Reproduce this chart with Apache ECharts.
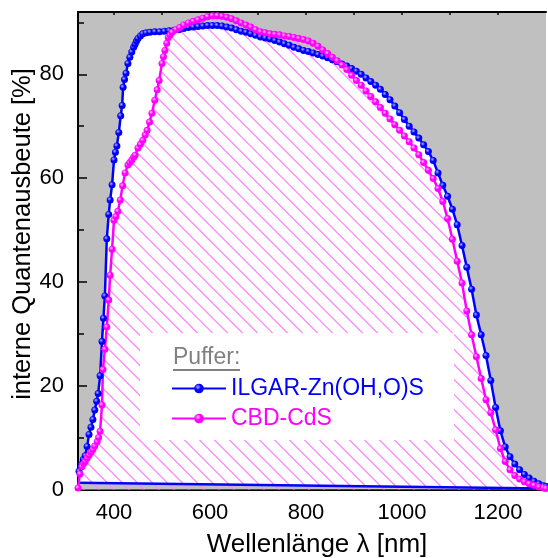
<!DOCTYPE html>
<html>
<head>
<meta charset="utf-8">
<script src="https://cdn.jsdelivr.net/npm/echarts@6/dist/echarts.min.js"></script>
<style>
html,body{margin:0;padding:0;background:#fff;}
#chart{width:548px;height:558px;}
</style>
</head>
<body>
<div id="chart"></div>
<script>
// ---- data ----
const ilgarNm = [327,332,336,340,344,348,352,356,360,364,367,371,375,378,381,385,389,392,396,400,403,406,410,414,417,419,422,425,429,433,437,441,444,447,450,455,460,467,475,485,495,505,515,525,535,545,555,565,575,585,595,605,615,625,635,645,655,665,675,685,695,705,715,725,735,745,755,765,775,785,795,805,815,825,835,845,855,865,875,885,895,905,915,925,935,945,955,965,975,985,995,1005,1015,1025,1035,1045,1055,1065,1075,1085,1095,1105,1115,1125,1135,1145,1155,1165,1175,1185,1195,1205,1215,1225,1235,1245,1255,1265,1275,1285,1295,1300];
const ilgarQE = [3.5,4.8,5.8,6.5,8.3,10.6,12,13.5,15.3,17,18.5,21.9,28.5,33,37.3,48.3,53,55.8,58.7,63.5,65,66.2,68.8,72,74,77.5,79,80.2,82.1,83.3,84.3,85.2,85.8,86.4,86.9,87.4,87.8,88,88.1,88.2,88.2,88.3,88.4,88.5,88.6,88.8,89,89.1,89.2,89.3,89.4,89.4,89.4,89.3,89.1,88.9,88.6,88.3,88.1,87.8,87.5,87.2,87,86.8,86.5,86.2,85.9,85.6,85.2,84.9,84.6,84.4,84.1,83.8,83.5,83.2,82.8,82.4,82,81.6,81.1,80.6,80,79.3,78.6,77.9,77.1,76.1,75.1,73.9,72.6,71.3,70,68.9,67.7,66.4,65.1,63.4,61,58.6,56.5,54,51,47,42.8,38.6,33.6,29.8,25.8,21,15.8,11.3,8.2,6.3,4.9,3.8,2.9,2.2,1.6,1.1,0.7,0.6];

const cdsNm = [325,329,333,337,340,344,348,352,356,360,365,368,371,375,377,381,385,389,392,396,400,404,408,413,418,423,429,433,437,441,444,450,455,460,465,469,474,479,485,490,494,500,503,506,510,513,517,521,529,537,545,555,565,575,585,595,605,615,625,635,645,655,665,675,685,695,705,715,725,735,745,755,765,775,785,795,805,815,825,835,845,855,865,875,885,895,905,915,925,935,945,955,965,975,985,995,1005,1015,1025,1035,1045,1055,1065,1075,1085,1095,1105,1115,1125,1135,1145,1155,1165,1175,1185,1195,1205,1215,1225,1235,1245,1255,1265,1275,1285,1295,1300];
const cdsQE = [0.3,3,4.4,5,5.4,6,6.6,7.2,7.7,8.4,9.2,10,11.2,16.3,23.1,27,31.3,36.5,41.3,46.3,51.9,52.6,53.6,55.8,58.5,61,62.5,63,63.5,64,64.4,65.8,66.5,67.3,68.3,69.2,70.8,72.5,75,77,78.8,82.1,83.4,84.6,86,87.1,87.6,88.1,88.6,89,89.5,89.9,90.2,90.5,90.8,91.1,91.3,91.3,91.2,91,90.7,90.3,89.9,89.5,89.1,88.6,88.2,88,87.8,87.7,87.6,87.4,87.3,87.1,86.9,86.7,86.4,86,85.4,84.7,84,83.3,82.6,81.8,80.9,79.8,78.8,77.9,76.8,75.7,74.7,73.6,72.5,71.4,70.3,69.2,68.1,67,65.8,64.5,63,61.5,59.9,58,55.5,52.2,48.2,44,39.8,34.4,29.8,25.6,21.4,17.3,14.8,11.5,7.9,5.4,3.8,2.7,2,1.5,1.1,0.8,0.5,0.3,0.2];

const baseNm = [325, 1300];
const baseQE = [1.3, 0.2];

const xMajorTicks = [400, 600, 800, 1000, 1200];
const xMinorTicks = [500, 700, 900, 1100];
const xAllTicks = [400, 500, 600, 700, 800, 900, 1000, 1100, 1200];
const yMajorTicks = [0, 20, 40, 60, 80];
const yMinorTicks = [10, 30, 50, 70, 90];

const seriesNames = ['ILGAR-Zn(OH,O)S', 'CBD-CdS'];
const legendTitle = 'Puffer:';
const xName = 'Wellenlänge λ [nm]';
const yName = 'interne Quantenausbeute [%]';

// ---- build ----
const pair = (xs, ys) => xs.map((x, i) => [x, ys[i]]);
const ilgar = pair(ilgarNm, ilgarQE);
const cds = pair(cdsNm, cdsQE);
const base = pair(baseNm, baseQE);

const FONT = '"Liberation Sans", Arial, sans-serif';
const BLUE = '#0000ff';
const MAG = '#ff00ff';
const HATCH = '#ff88ff';
const HATCH_STEP = 15;

function sphere(c, hi) {
  return {
    type: 'radial', x: 0.38, y: 0.35, r: 0.7,
    colorStops: [{offset: 0, color: hi}, {offset: 0.45, color: c}, {offset: 1, color: c}]
  };
}

// diagonal "\" hatch clipped to the area under the CBD-CdS curve
function renderHatch(params, api) {
  if (params.dataIndex !== 0) return null;
  const pts = cds.map(d => api.coord(d));
  pts.push(api.coord([cdsNm[cdsNm.length - 1], 0]));
  pts.push(api.coord([cdsNm[0], 0]));
  const cs = params.coordSys;
  const x0 = cs.x, y0 = cs.y, w = cs.width, h = cs.height;
  const cMin = Math.floor((y0 - (x0 + w)) / HATCH_STEP) * HATCH_STEP;
  const cMax = (y0 + h) - x0;
  const children = [];
  for (let c = cMin; c <= cMax; c += HATCH_STEP) {
    const xs = [];
    for (let i = 0; i < pts.length; i++) {
      const a = pts[i], b = pts[(i + 1) % pts.length];
      const fa = a[1] - a[0] - c, fb = b[1] - b[0] - c;
      if ((fa > 0) !== (fb > 0)) {
        const t = fa / (fa - fb);
        xs.push(a[0] + t * (b[0] - a[0]));
      }
    }
    xs.sort((p, q) => p - q);
    for (let j = 0; j + 1 < xs.length; j += 2) {
      children.push({
        type: 'line',
        shape: {x1: xs[j], y1: xs[j] + c + 0.5, x2: xs[j + 1], y2: xs[j + 1] + c + 0.5},
        style: {stroke: HATCH, lineWidth: 1.3, fill: null, opacity: 1}
      });
    }
  }
  return {type: 'group', children: children};
}

const chart = echarts.init(document.getElementById('chart'));
const MIN_X = 325, MAX_X = 1300, MIN_Y = 0, MAX_Y = 92;
const plain = v => String(v);

const option = {
  animation: false,
  textStyle: {fontFamily: FONT},
  grid: {left: 78, right: 2, top: 12, bottom: 68.5, show: true, backgroundColor: '#c0c0c0', borderWidth: 0},
  xAxis: [
    {
      type: 'value', min: MIN_X, max: MAX_X, position: 'bottom',
      axisLine: {show: true, onZero: false, lineStyle: {color: '#000', width: 2}},
      axisTick: {show: true, inside: true, length: 8, lineStyle: {color: '#000', width: 1.5}, customValues: xMajorTicks},
      axisLabel: {show: true, fontSize: 22, color: '#000', margin: 12, fontFamily: FONT, customValues: xMajorTicks, formatter: plain},
      splitLine: {show: false}
    },
    {
      type: 'value', min: MIN_X, max: MAX_X, position: 'bottom',
      axisLine: {show: false, onZero: false},
      axisTick: {show: true, inside: true, length: 5, lineStyle: {color: '#000', width: 1.5}, customValues: xMinorTicks},
      axisLabel: {show: false},
      splitLine: {show: false}
    },
    {
      type: 'value', min: MIN_X, max: MAX_X, position: 'top',
      axisLine: {show: true, onZero: false, lineStyle: {color: '#000', width: 2}},
      axisTick: {show: true, inside: true, length: 3, lineStyle: {color: '#000', width: 1.5}, customValues: xAllTicks},
      axisLabel: {show: false},
      splitLine: {show: false}
    }
  ],
  yAxis: [
    {
      type: 'value', min: MIN_Y, max: MAX_Y, position: 'left',
      axisLine: {show: true, onZero: false, lineStyle: {color: '#000', width: 2}},
      axisTick: {show: true, inside: true, length: 9, lineStyle: {color: '#000', width: 1.5}, customValues: yMajorTicks},
      axisLabel: {show: true, fontSize: 22, color: '#000', margin: 14, fontFamily: FONT, customValues: yMajorTicks, formatter: plain},
      splitLine: {show: false}
    },
    {
      type: 'value', min: MIN_Y, max: MAX_Y, position: 'left',
      axisLine: {show: false, onZero: false},
      axisTick: {show: true, inside: true, length: 6, lineStyle: {color: '#000', width: 1.5}, customValues: yMinorTicks},
      axisLabel: {show: false},
      splitLine: {show: false}
    }
  ],
  legend: {
    left: 171, top: 377, orient: 'vertical', padding: 0,
    itemWidth: 54, itemHeight: 12, itemGap: 7,
    selectedMode: false,
    textStyle: {fontSize: 23, fontFamily: FONT},
    data: [
      {name: seriesNames[0], textStyle: {color: BLUE}},
      {name: seriesNames[1], textStyle: {color: MAG}}
    ]
  },
  graphic: [
    {type: 'rect', z: 3, shape: {x: 140, y: 333, width: 314, height: 107}, style: {fill: '#ffffff'}},
    {type: 'text', z: 4, left: 173, top: 346, style: {text: legendTitle, fill: '#808080', font: '23px ' + FONT}},
    {type: 'line', z: 4, shape: {x1: 173, y1: 370, x2: 240, y2: 370}, style: {stroke: '#808080', lineWidth: 2}},
    {type: 'text', z: 4, x: 317, y: 545, style: {text: xName, fill: '#000', font: '26px ' + FONT, align: 'center', verticalAlign: 'middle'}},
    {type: 'text', z: 4, x: 23, y: 234, rotation: Math.PI / 2, style: {text: yName, fill: '#000', font: '25.5px ' + FONT, align: 'center', verticalAlign: 'middle'}}
  ],
  series: [
    {
      name: 'ilgar-fill', type: 'line', data: ilgar, showSymbol: false, symbol: 'none',
      lineStyle: {width: 0, opacity: 0}, areaStyle: {color: '#ffffff', opacity: 1, origin: 'start'},
      silent: true, z: 1
    },
    {
      name: 'base-fill', type: 'line', data: base, symbol: 'none',
      lineStyle: {width: 0, opacity: 0}, areaStyle: {color: '#c0c0c0', opacity: 1, origin: 'start'},
      silent: true, z: 1
    },
    {
      name: 'cds-hatch', type: 'custom', data: cds, renderItem: renderHatch,
      silent: true, clip: true, z: 1
    },
    {
      name: 'base-line', type: 'line', data: base, symbol: 'none',
      lineStyle: {color: BLUE, width: 2.5}, silent: true, z: 2
    },
    {
      name: seriesNames[0], type: 'line', data: ilgar,
      symbol: 'circle', symbolSize: 7, showAllSymbol: true,
      lineStyle: {color: BLUE, width: 2.5},
      itemStyle: {color: sphere(BLUE, '#b0b0ff'), borderWidth: 0},
      z: 2
    },
    {
      name: seriesNames[1], type: 'line', data: cds,
      symbol: 'circle', symbolSize: 7, showAllSymbol: true,
      lineStyle: {color: MAG, width: 2.5},
      itemStyle: {color: sphere(MAG, '#ffc0ff'), borderWidth: 0},
      z: 2
    }
  ]
};
chart.setOption(option);
</script>
</body>
</html>
